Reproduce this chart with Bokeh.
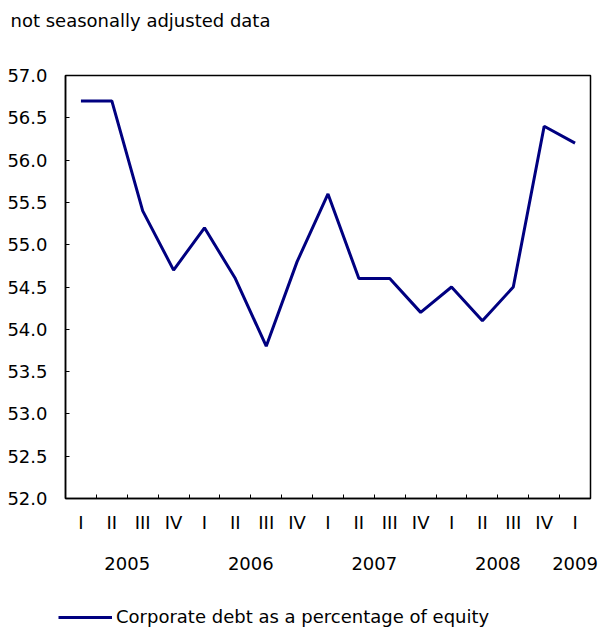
from bokeh.plotting import figure
from bokeh.layouts import column
from bokeh.models import (LinearAxis, FixedTicker, Label, Legend, LegendItem,
                          ColumnDataSource)
from bokeh.embed import file_html
from bokeh.resources import INLINE

quarters = ["I", "II", "III", "IV", "I", "II", "III", "IV", "I", "II", "III", "IV",
            "I", "II", "III", "IV", "I"]
years = ["2005", "2006", "2007", "2008", "2009"]
year_quarter_counts = [4, 4, 4, 4, 1]
debt_pct = [56.7, 56.7, 55.4, 54.7, 55.2, 54.6, 53.8, 54.8, 55.6, 54.6, 54.6, 54.2,
            54.5, 54.1, 54.5, 56.4, 56.2]
y_ticks = [52.0, 52.5, 53.0, 53.5, 54.0, 54.5, 55.0, 55.5, 56.0, 56.5, 57.0]
title_text = "not seasonally adjusted data"
series_name = "Corporate debt as a percentage of equity"

FONT = "DejaVu Sans"
FS = "18px"
LINE_COLOR = "#000080"

n = len(quarters)
xs = list(range(n))
src = ColumnDataSource(dict(x=xs, y=debt_pct))


def blank_fig(h):
    f = figure(width=598, height=h, x_range=(0, 1), y_range=(0, 1),
               output_backend="svg", toolbar_location=None, x_axis_type=None, y_axis_type=None,
               min_border_left=0, min_border_right=0, min_border_top=0, min_border_bottom=0,
               frame_align=False)
    f.xgrid.visible = False
    f.ygrid.visible = False
    f.outline_line_color = None
    return f


# ---- title strip
top = blank_fig(45)
top.add_layout(Label(x=10, y=25, x_units="screen", y_units="screen", text=title_text,
                     text_font=FONT, text_font_size=FS, text_color="black",
                     text_baseline="alphabetic"))

# ---- main chart
p = figure(width=598, height=551, x_range=(-0.5, n - 0.5), y_range=(y_ticks[0], y_ticks[-1]),
           output_backend="svg", toolbar_location=None, x_axis_type=None, y_axis_type=None,
           min_border_left=65, min_border_right=8, min_border_top=30, min_border_bottom=98,
           frame_align=False)
p.xgrid.visible = False
p.ygrid.visible = False
p.outline_line_color = "black"
p.outline_line_width = 1.5

yax = LinearAxis(ticker=FixedTicker(ticks=y_ticks),
                 major_label_overrides={tk: f"{tk:.1f}" for tk in y_ticks})
yax.major_tick_in = 4
yax.major_tick_out = 0
yax.minor_tick_line_color = None
yax.axis_line_width = 1.5
yax.major_label_text_font = FONT
yax.major_label_text_font_size = FS
yax.major_label_text_color = "black"
yax.major_label_standoff = 18
p.add_layout(yax, "left")

qax = LinearAxis(ticker=FixedTicker(ticks=xs, minor_ticks=[i + 0.5 for i in xs[:-1]]),
                 major_label_overrides={i: q for i, q in enumerate(quarters)})
qax.major_tick_in = 0
qax.major_tick_out = 0
qax.major_tick_line_color = None
qax.minor_tick_in = 4
qax.minor_tick_out = 0
qax.axis_line_width = 1.5
qax.major_label_text_font = FONT
qax.major_label_text_font_size = FS
qax.major_label_text_color = "black"
qax.major_label_standoff = 13
p.add_layout(qax, "below")

year_pos = []
start = 0
for c in year_quarter_counts:
    year_pos.append(start + (c - 1) / 2)
    start += c
yrax = LinearAxis(ticker=FixedTicker(ticks=year_pos),
                  major_label_overrides={pos: y for pos, y in zip(year_pos, years)})
yrax.axis_line_color = None
yrax.major_tick_line_color = None
yrax.minor_tick_line_color = None
yrax.major_label_text_font = FONT
yrax.major_label_text_font_size = FS
yrax.major_label_text_color = "black"
yrax.major_label_standoff = 15
p.add_layout(yrax, "below")

p.line("x", "y", source=src, line_color=LINE_COLOR, line_width=3)

# ---- legend strip (series drawn off-range here; only its legend key shows)
bot = blank_fig(34)
key = bot.line("x", "y", source=src, line_color=LINE_COLOR, line_width=3)
legend = Legend(items=[LegendItem(label=series_name, renderers=[key])],
                location=(58, 3), glyph_width=54, glyph_height=20, label_height=20,
                label_standoff=4, padding=0, margin=0, border_line_color=None,
                background_fill_alpha=0, label_text_font=FONT, label_text_font_size=FS,
                label_text_color="black")
bot.add_layout(legend, "center")

layout = column(top, p, bot, spacing=0)
open("out.html", "w").write(file_html(layout, INLINE))
